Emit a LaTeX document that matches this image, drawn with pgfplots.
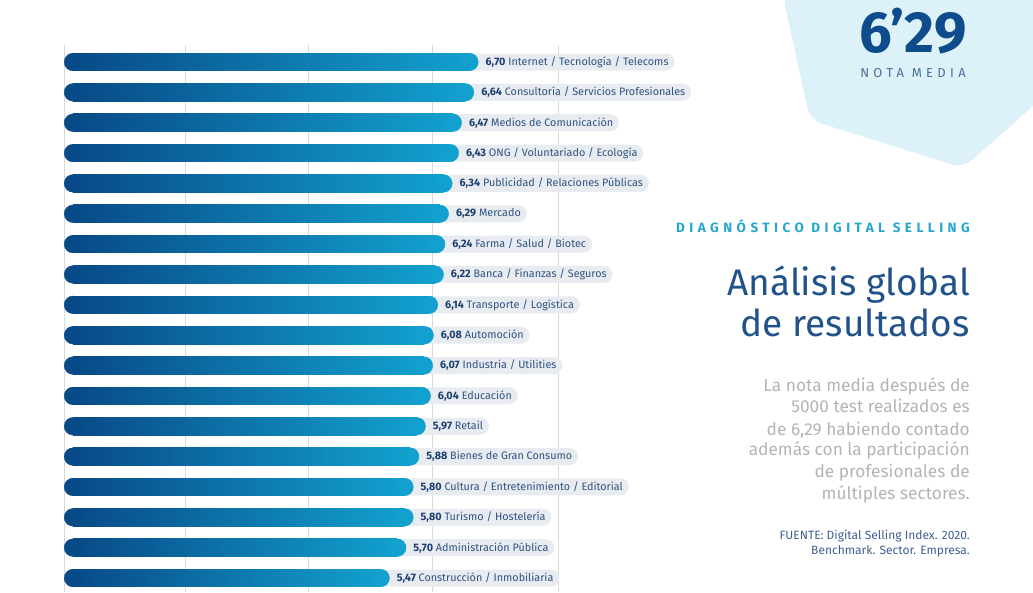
\documentclass[border=0pt]{standalone}
\usepackage{pgfplots}
\pgfplotsset{compat=1.18}
\usepackage{pgfplotstable}
\usepackage{fontspec}
\setmainfont{Fira Sans}
\definecolor{barL}{HTML}{084A87}
\definecolor{barR}{HTML}{12A0CE}
\definecolor{pill}{HTML}{E8EBEF}
\definecolor{valc}{HTML}{1B3F70}
\definecolor{labc}{HTML}{2E5283}
\definecolor{gridc}{HTML}{D9D9D9}
\definecolor{panel}{HTML}{DDF2F8}
\definecolor{bigc}{HTML}{0E4C8C}
\definecolor{notac}{HTML}{4A7199}
\definecolor{diagc}{HTML}{27A7D0}
\definecolor{titc}{HTML}{21528A}
\definecolor{bodyc}{HTML}{B4B4B4}
\definecolor{fuentec}{HTML}{3D5F8E}

\pgfplotstableread[col sep=semicolon, row sep=\\]{
v;name\\
6.70;Internet / Tecnología / Telecoms\\
6.64;Consultoría / Servicios Profesionales\\
6.47;Medios de Comunicación\\
6.43;ONG / Voluntariado / Ecología\\
6.34;Publicidad / Relaciones Públicas\\
6.29;Mercado\\
6.24;Farma / Salud / Biotec\\
6.22;Banca / Finanzas / Seguros\\
6.14;Transporte / Logística\\
6.08;Automoción\\
6.07;Industria / Utilities\\
6.04;Educación\\
5.97;Retail\\
5.88;Bienes de Gran Consumo\\
5.80;Cultura / Entretenimiento / Editorial\\
5.80;Turismo / Hostelería\\
5.70;Administración Pública\\
5.47;Construcción / Inmobiliaria\\
}\datatable

\begin{document}
\begin{tikzpicture}[x=1pt,y=1pt]
\useasboundingbox (0,0) rectangle (1033,592);
\fill[panel, rounded corners=12pt] (782,600) -- (810,472) -- (963,424) -- (1040,492) -- (1040,600) -- cycle;

\begin{axis}[
  at={(64pt,0pt)}, anchor=south west,
  scale only axis, width=636pt, height=547pt,
  xmin=-0.1247, xmax=8.684, ymin=-0.56, ymax=17.46,
  y dir=reverse,
  axis line style={draw=none},
  xtick={-0.1247,1.551,3.255,4.972,6.717},
  xticklabels={{},{},{},{},{}},
  ytick=\empty,
  major tick length=0pt,
  xmajorgrids,
  major grid style={draw=gridc, line width=0.9pt},
  clip=false,
]
% label pills
\addplot[xbar, bar width=18pt, bar shift=0pt, draw=none, fill=none,
  point meta=explicit symbolic,
  visualization depends on={\thisrow{v}\as\vval},
  nodes near coords={\hspace{13pt}{\bfseries\color{valc}\pgfmathprintnumber[fixed, fixed zerofill, precision=2, use comma, assume math mode=true]{\vval}}\ \pgfplotspointmeta},
  every node near coord/.style={anchor=west, xshift=-3pt, fill=pill,
    rounded corners=8.5pt, minimum height=17pt, inner xsep=6pt, inner ysep=0pt,
    text=labc, font=\fontsize{10.8}{12}\selectfont},
] table[x expr=\thisrow{v}-0.96-0.2493, y expr=\coordindex, meta=name]{\datatable};
% rounded caps (drawn first, bar bodies cover their inner halves)
\addplot[color=barL, only marks, mark=*, mark size=8.8pt, mark options={fill=barL, draw=none}]
  table[x expr=0, y expr=\coordindex]{\datatable};
\addplot[color=barR, only marks, mark=*, mark size=8.8pt, mark options={fill=barR, draw=none}]
  table[x expr=\thisrow{v}-0.96-0.2493, y expr=\coordindex]{\datatable};
% bar bodies: one plot per bar so that each bar gets its own gradient
\pgfplotsinvokeforeach{0,...,17}{
\addplot[xbar, bar width=17.6pt, bar shift=0pt, draw=none,
  left color=barL, right color=barR,
  x filter/.code={\ifnum\coordindex=#1\relax\else\def\pgfmathresult{}\fi}]
  table[x expr=\thisrow{v}-0.96-0.2493, y expr=\coordindex]{\datatable};
}
\end{axis}

\node[anchor=base, text=bigc, font=\fontsize{58}{62}\selectfont\bfseries, inner sep=0] at (913,539) {6’29};
\node[anchor=base, text=notac, font=\fontsize{13}{15}\selectfont\addfontfeatures{LetterSpace=33}, inner sep=0] at (913,514) {NOTA MEDIA};
\node[anchor=base east, text=diagc, font=\fontsize{13.5}{15}\selectfont\bfseries\addfontfeatures{LetterSpace=33}, inner sep=0] at (970,359) {DIAGNÓSTICO DIGITAL SELLING};
\node[anchor=base east, text=titc, font=\fontsize{37}{44}\selectfont, inner sep=0] at (970,296) {Análisis global};
\node[anchor=base east, text=titc, font=\fontsize{37}{44}\selectfont, inner sep=0] at (970,255) {de resultados};
\begin{scope}[every node/.style={anchor=base east, text=bodyc, font=\fontsize{17.3}{20}\selectfont, inner sep=0}]
\node at (970,200) {La nota media después de};
\node at (970,179) {5000 test realizados es};
\node at (970,157) {de 6,29 habiendo contado};
\node at (970,136) {además con la participación};
\node at (970,115) {de profesionales de};
\node at (970,93) {múltiples sectores.};
\end{scope}
\begin{scope}[every node/.style={anchor=base east, text=fuentec, font=\fontsize{12}{14}\selectfont, inner sep=0}]
\node at (970,53) {FUENTE: Digital Selling Index. 2020.};
\node at (970,38) {Benchmark. Sector. Empresa.};
\end{scope}
\end{tikzpicture}
\end{document}
